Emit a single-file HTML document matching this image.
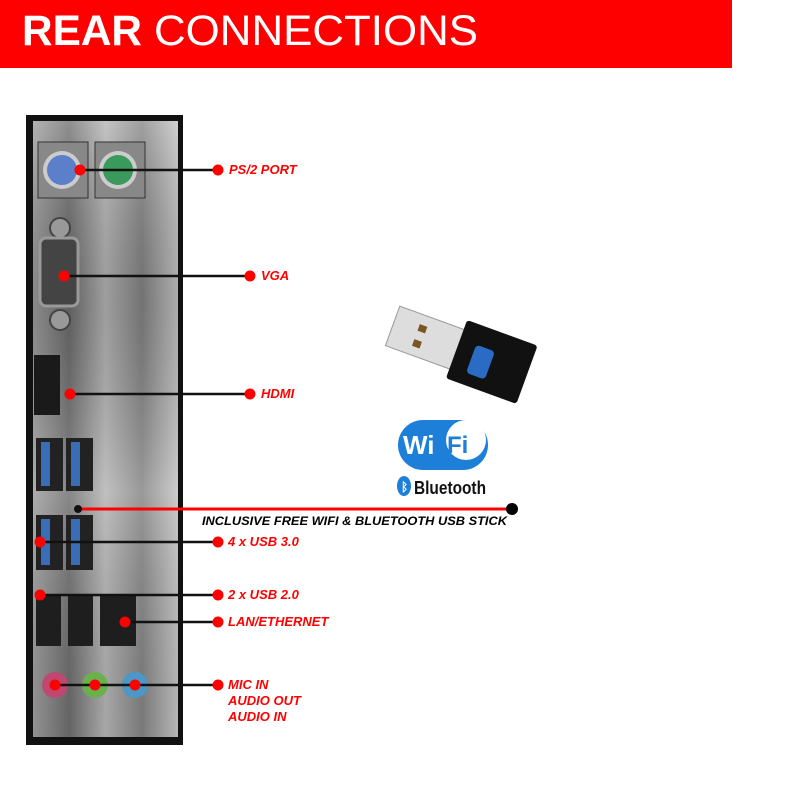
<!DOCTYPE html>
<html><head><meta charset="utf-8"><style>
html,body{margin:0;padding:0;background:#fff;}
svg{display:block;}
text{font-family:"Liberation Sans",sans-serif;}
</style></head><body>
<svg width="800" height="800" viewBox="0 0 800 800" xmlns="http://www.w3.org/2000/svg">
<defs>
<linearGradient id="metal" x1="0" y1="0" x2="1" y2="0">
<stop offset="0" stop-color="#9a9a9a"/><stop offset="0.25" stop-color="#6a6a6a"/>
<stop offset="0.5" stop-color="#b0b0b0"/><stop offset="0.75" stop-color="#808080"/>
<stop offset="1" stop-color="#c0c0c0"/></linearGradient>
<linearGradient id="metal2" x1="0" y1="0" x2="0" y2="1">
<stop offset="0" stop-color="#fff" stop-opacity="0.25"/><stop offset="0.3" stop-color="#000" stop-opacity="0.1"/>
<stop offset="0.6" stop-color="#fff" stop-opacity="0.2"/><stop offset="1" stop-color="#000" stop-opacity="0.05"/></linearGradient>
</defs>
<rect x="0" y="0" width="732" height="68" fill="#ff0000"/>
<text x="22" y="45" font-size="43" font-weight="bold" fill="#fff" textLength="120" lengthAdjust="spacingAndGlyphs">REAR</text>
<text x="154" y="45" font-size="43" fill="#fff" textLength="324" lengthAdjust="spacingAndGlyphs">CONNECTIONS</text>

<rect x="26" y="115" width="157" height="630" fill="#111"/>
<rect x="33" y="121" width="145" height="616" fill="url(#metal)"/>
<rect x="33" y="121" width="145" height="616" fill="url(#metal2)"/>
<rect x="38" y="142" width="50" height="56" fill="#888" stroke="#333"/>
<circle cx="62" cy="170" r="19" fill="#ccc"/><circle cx="62" cy="170" r="15" fill="#5b7fc9"/>
<rect x="95" y="142" width="50" height="56" fill="#888" stroke="#333"/>
<circle cx="118" cy="170" r="19" fill="#ccc"/><circle cx="118" cy="170" r="15" fill="#3a9a5c"/>
<circle cx="60" cy="228" r="10" fill="#999" stroke="#444" stroke-width="2"/>
<circle cx="60" cy="320" r="10" fill="#999" stroke="#444" stroke-width="2"/>
<rect x="40" y="238" width="38" height="68" rx="6" fill="#444" stroke="#999" stroke-width="3"/>
<rect x="34" y="355" width="26" height="60" fill="#1a1a1a"/>
<g fill="#222"><rect x="36" y="438" width="27" height="53"/><rect x="66" y="438" width="27" height="53"/>
<rect x="36" y="515" width="27" height="55"/><rect x="66" y="515" width="27" height="55"/></g>
<g fill="#3a6db5"><rect x="41" y="442" width="9" height="44"/><rect x="71" y="442" width="9" height="44"/>
<rect x="41" y="519" width="9" height="46"/><rect x="71" y="519" width="9" height="46"/></g>
<g fill="#1e1e1e"><rect x="36" y="594" width="25" height="52"/><rect x="68" y="594" width="25" height="52"/><rect x="100" y="594" width="36" height="52"/></g>
<circle cx="55" cy="685" r="13" fill="#c04870"/><circle cx="95" cy="685" r="13" fill="#6ab04c"/><circle cx="135" cy="685" r="13" fill="#4a98c8"/>

<g stroke="#111" stroke-width="2.5">
<line x1="80" y1="170" x2="218" y2="170"/><line x1="64" y1="276" x2="250" y2="276"/>
<line x1="70" y1="394" x2="250" y2="394"/><line x1="40" y1="542" x2="218" y2="542"/>
<line x1="40" y1="595" x2="218" y2="595"/><line x1="125" y1="622" x2="218" y2="622"/>
<line x1="55" y1="685" x2="218" y2="685"/></g>
<line x1="78" y1="509" x2="512" y2="509" stroke="#ff0000" stroke-width="3"/>
<circle cx="78" cy="509" r="4" fill="#111"/><circle cx="512" cy="509" r="6" fill="#000"/>
<g fill="#ff0000">
<circle cx="80" cy="170" r="5.5"/><circle cx="218" cy="170" r="5.5"/>
<circle cx="64" cy="276" r="5.5"/><circle cx="250" cy="276" r="5.5"/>
<circle cx="70" cy="394" r="5.5"/><circle cx="250" cy="394" r="5.5"/>
<circle cx="40" cy="542" r="5.5"/><circle cx="218" cy="542" r="5.5"/>
<circle cx="40" cy="595" r="5.5"/><circle cx="218" cy="595" r="5.5"/>
<circle cx="125" cy="622" r="5.5"/><circle cx="218" cy="622" r="5.5"/>
<circle cx="55" cy="685" r="5.5"/><circle cx="95" cy="685" r="5.5"/><circle cx="135" cy="685" r="5.5"/><circle cx="218" cy="685" r="5.5"/>
</g>
<g fill="#ff0000" font-size="13" font-weight="bold" font-style="italic">
<text x="229" y="174">PS/2 PORT</text>
<text x="261" y="280">VGA</text>
<text x="261" y="398">HDMI</text>
<text x="228" y="546">4 x USB 3.0</text>
<text x="228" y="599">2 x USB 2.0</text>
<text x="228" y="626">LAN/ETHERNET</text>
<text x="228" y="689">MIC IN</text>
<text x="228" y="705">AUDIO OUT</text>
<text x="228" y="721">AUDIO IN</text>
</g>
<text x="202" y="525" font-size="12" font-weight="bold" font-style="italic" fill="#000" textLength="305" lengthAdjust="spacingAndGlyphs">INCLUSIVE FREE WIFI &amp; BLUETOOTH USB STICK</text>

<g transform="rotate(20 460 360)">
<rect x="385" y="330" width="70" height="42" fill="#ddd" stroke="#999"/>
<rect x="410" y="340" width="8" height="7" fill="#7a5520"/><rect x="410" y="356" width="8" height="7" fill="#7a5520"/>
<rect x="453" y="320" width="75" height="62" rx="3" fill="#111"/>
<rect x="470" y="340" width="20" height="30" rx="4" fill="#2a6cc4"/>
</g>
<rect x="398" y="420" width="90" height="50" rx="25" fill="#1e7fd8"/>
<circle cx="466" cy="440" r="20" fill="#fff"/>
<text x="403" y="454" font-size="26" font-weight="bold" fill="#fff">Wi</text>
<text x="447" y="453" font-size="24" font-weight="bold" fill="#1e7fd8">Fi</text>
<ellipse cx="404" cy="486" rx="7" ry="10" fill="#1e7fd8"/>
<text x="401" y="491" font-size="12" font-weight="bold" fill="#fff">ᛒ</text>
<text x="414" y="494" font-size="18" font-weight="bold" fill="#111" textLength="72" lengthAdjust="spacingAndGlyphs">Bluetooth</text>
</svg>
</body></html>
